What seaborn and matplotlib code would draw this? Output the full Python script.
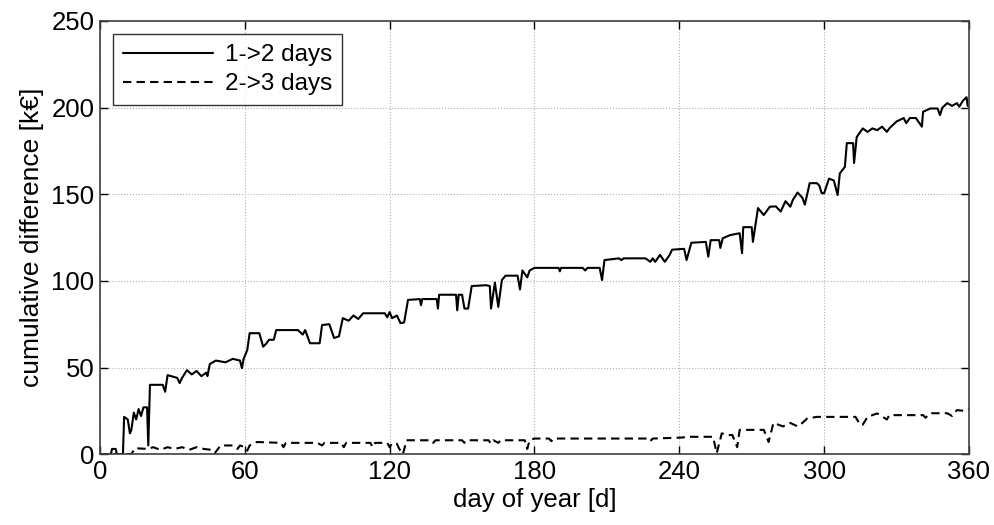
import numpy as np
import pandas as pd
import seaborn as sns
import matplotlib
matplotlib.use("Agg")
import matplotlib.pyplot as plt

# series 1: 1->2 days (day of year, cumulative difference in kEUR)
days_12 = [0, 4.5, 5, 6.5, 7, 9.5, 10, 11.5, 12.4, 13, 14, 15, 16, 17, 18, 19.5, 20, 20.7,
           26, 27, 28, 32, 33, 34, 36, 38, 40, 42, 44, 44.5, 45.5, 48, 52, 55, 58, 58.8,
           59.5, 61, 62, 66, 67.6, 69, 70, 72, 73, 82, 84, 85, 87, 89, 91, 92, 95, 97, 99,
           100.6, 103, 105, 107, 109, 118, 119, 120, 121, 123, 124.5, 126, 127.6, 132.5,
           133, 133.5, 139.5, 140, 140.5, 147.5, 148, 148.6, 150, 151, 152.5, 154, 160,
           161.5, 162, 163.6, 165, 166.5, 168, 173, 174, 175, 177, 178, 180, 190, 190.5,
           191, 200, 201, 202, 207, 208, 209, 215, 216, 217, 226, 228, 229, 230, 232, 234,
           236, 237, 242, 243, 245, 251, 252, 253, 256.5, 257, 258, 261, 265, 266, 266.5,
           270, 270.5, 272.6, 275, 277.5, 280, 282, 284, 286, 287, 289, 291, 292, 293, 294,
           297, 298, 299, 300, 302, 304, 305.6, 306.5, 308.6, 309.4, 312, 312.4, 313.5,
           316, 318, 320, 322, 324, 326, 327, 330, 333, 334, 335.5, 338, 340.5, 341, 344,
           347, 348, 349, 351, 353, 355, 356, 357.5, 359, 359.5, 360]
vals_12 = [0, 0, 3, 3, 0, 0, 21.5, 20, 12, 14, 24, 20, 26, 22, 27, 27, 5, 40,
           40, 36, 45.6, 44, 41, 44, 48.5, 46, 48, 45, 47, 45, 52, 54, 53, 55, 54, 49.6,
           55, 60, 69.8, 69.8, 62, 64, 66, 66, 71.6, 71.6, 69, 71.6, 64, 64, 64, 74.5, 75, 67, 68,
           78.5, 77, 80, 78, 81.3, 81.3, 79, 82, 78.5, 80, 75.6, 76, 89, 89.5,
           86, 89.5, 89.5, 84, 92, 92, 83, 92, 92, 84, 84, 97, 97.5,
           97, 84, 99, 85, 100.5, 103, 103, 95, 106, 102, 106, 107.5, 107.5, 105.5,
           107.5, 107.5, 106, 107.5, 107.5, 100.5, 112, 113, 112, 113, 113, 111, 113, 111, 115, 111,
           115, 118, 118.5, 112, 122, 122.5, 114, 123.5, 123.5, 119, 124.6, 126.4, 127.5, 116, 131,
           131, 122.5, 142, 138, 142.8, 143, 140, 146, 142.8, 146.6, 151, 148, 144, 150, 156.4,
           156.4, 155, 150.6, 150.6, 159, 158, 149.5, 162, 165.8, 179.5, 179.5, 168, 183,
           188, 186, 188, 187, 189, 186, 188, 192, 194, 191, 194, 194, 189, 197.6, 199.5,
           199.5, 195.7, 200, 202.6, 201, 202.6, 200.5, 204, 206, 201, 201]

# series 2: 2->3 days
days_23 = [0, 13, 14.5, 20, 22, 25, 28, 31, 34, 37, 40, 43, 46, 47.5, 50, 55, 57, 58, 60,
           61, 62, 65, 75, 76, 77, 90, 92, 93, 100, 101, 102, 112, 113, 114, 119, 120, 121,
           123, 124, 125.5, 127, 137, 138, 139, 150, 151, 152, 161, 162, 163, 165, 166,
           176, 177, 178, 180, 186, 187, 188, 227, 228, 229, 240, 245, 254, 255.5, 257.6,
           260, 262, 264, 265, 275, 277, 279, 283, 286, 289, 291, 293, 297, 313, 315, 316,
           318, 322, 326, 327, 341, 342, 344, 351, 353, 355, 358, 360]
vals_23 = [0, 0, 3.4, 3, 4, 2.5, 4, 3, 4, 2.5, 4, 3, 2.5, 0.5, 5, 5, 3, 5, 4,
           2, 5, 7, 6.5, 4, 6.5, 6.5, 5, 6.5, 6.5, 4, 6.5, 6.5, 4, 6.5, 6.5, 4, 6.3,
           6, 3, 0, 8, 8, 6.5, 8, 8, 6.5, 8, 8, 6, 8, 6.5, 8,
           8, 3, 8, 9, 9, 7.5, 9, 9, 7.5, 9, 9.5, 10, 10, 0.5, 12,
           11, 11, 4, 14, 14, 7, 18, 16, 18, 16, 18, 20.6, 21.5, 21.5, 16.8, 17,
           21.5, 23.5, 20, 22.5, 22.5, 21, 23.6, 23.6, 22, 25.4, 25, 26]

labels = ["1->2 days", "2->3 days"]

df = pd.concat([
    pd.DataFrame({"day": days_12, "diff": vals_12, "series": labels[0]}),
    pd.DataFrame({"day": days_23, "diff": vals_23, "series": labels[1]}),
])

sns.set_theme(style="white")
plt.rcParams["font.family"] = ["Liberation Sans", "DejaVu Sans"]
plt.rcParams["text.color"] = "black"
plt.rcParams["axes.labelcolor"] = "black"

fig = plt.figure(figsize=(9.94, 5.25), dpi=100)
ax = fig.add_axes([0.1006, 0.135, 0.8742, 0.825])

sns.lineplot(data=df, x="day", y="diff", style="series", hue="series",
             palette={labels[0]: "black", labels[1]: "black"},
             dashes={labels[0]: "", labels[1]: (4, 2.5)},
             estimator=None, sort=False, linewidth=1.5, ax=ax)

ax.set_xlim(0, 360)
ax.set_ylim(0, 250)
ax.set_xticks(np.arange(0, 361, 60))
ax.set_yticks(np.arange(0, 251, 50))
ax.grid(True, linestyle=":", color="#b0b0b0", linewidth=0.8)
ax.tick_params(direction="in", length=6, width=1, colors="black", labelsize=18.5,
               top=True, right=True, bottom=True, left=True, pad=4)
for s in ax.spines.values():
    s.set_color("#404040")
    s.set_linewidth(1.2)

ax.set_xlabel("day of year [d]", fontsize=18.5, labelpad=3, color="black")
ax.set_ylabel("cumulative difference [k€]", fontsize=19, labelpad=5, color="black")

# legend box as in the original: square corners, black frame
leg = ax.legend(loc="upper left", fontsize=17.5, frameon=True, fancybox=False,
                handlelength=3.7, borderpad=0.4, labelspacing=0.3,
                handletextpad=0.5, borderaxespad=0.55)
leg.get_frame().set_edgecolor("black")
leg.get_frame().set_linewidth(1.0)
leg.set_title(None)
for t in leg.get_texts():
    t.set_color("black")

fig.savefig("out.png", dpi=100)
